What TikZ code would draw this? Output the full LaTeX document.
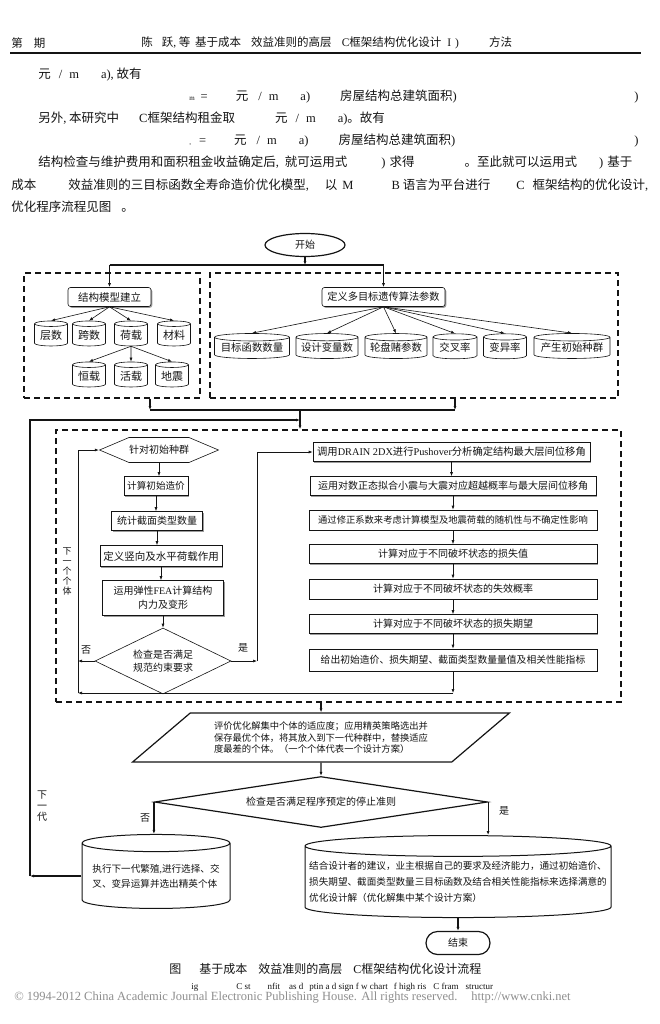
\documentclass[tikz,border=0pt]{standalone}
\usepackage{fontspec}
\setmainfont{Noto Sans CJK SC}
\newfontfamily\lat{Liberation Serif}
\usetikzlibrary{arrows.meta,shapes.geometric,shapes.symbols,shadows}
\definecolor{ink}{HTML}{141414}
\definecolor{shade}{HTML}{9C9C9C}
\definecolor{stamp}{HTML}{8E8E8E}
\newcommand\fsz[2]{\fontsize{#1}{#2}\selectfont}

\begin{document}
\begin{tikzpicture}[x=1pt,y=-1pt,>={Latex[length=4pt,width=3pt]},
  ink,text=ink,line width=0.6pt,
  body/.style={anchor=west,inner sep=0pt,font=\fsz{12.5}{14}},
  grp/.style={draw,line width=1.4pt,dash pattern=on 6pt off 4pt,inner sep=0pt},
  bold/.style={line width=1.2pt},
  pill/.style={draw,line width=1.2pt,inner sep=0pt,font=\fsz{10}{12}},
  head/.style={draw,rounded corners=2.5pt,fill=white,inner sep=0pt,font=\fsz{10.2}{12},
    drop shadow={shadow xshift=1.3pt,shadow yshift=-1.3pt,fill=shade,opacity=1}},
  can/.style={cylinder,shape border rotate=90,draw,fill=white,inner sep=0pt,font=\fsz{11}{12}},
  proc/.style={draw,fill=white,inner sep=0pt,font=\fsz{10}{12},
    drop shadow={shadow xshift=1pt,shadow yshift=-1pt,fill=shade,opacity=1}},
  ask/.style={diamond,draw,inner sep=0pt,align=center,font=\fsz{10}{13}},
  tag/.style={inner sep=0pt,font=\fsz{10}{12}}]
\useasboundingbox (0,0) rectangle (660,1024);
\fill[white] (0,0) rectangle (660,1024);

% running head and text
\node[body,font=\fsz{11.5}{13}] (issue) at (11,43) {第\hspace{11pt}期};
\node[body,font=\fsz{11.5}{13}] (runner) at (141,43)
  {陈\hspace{9pt}跃{\lat ,} 等\hspace{5pt}基于成本\hspace{10pt}效益准则的高层\hspace{10pt}{\lat C}框架结构优化设计\hspace{6pt}{\lat I\hspace{4pt})}\hspace{30pt}方法};
\draw[line width=1.3pt] (10,53) -- (641,53);
\node[body] (row1) at (38,75) {元\hspace{8pt}{\lat /\hspace{7pt}m\hspace{22pt}a),} 故有};
\node[body] (row2) at (189,97)
  {{\lat\fsz{7}{7}m}\hspace{6pt}{\lat =}\hspace{28pt}元\hspace{10pt}{\lat /}\hspace{7pt}{\lat m}\hspace{22pt}{\lat a)}\hspace{30pt}房屋结构总建筑面积{\lat )}};
\node[body] (row2r) at (634,97) {\lat )};
\node[body] (row3) at (38,119)
  {另外{\lat ,} 本研究中\hspace{20pt}{\lat C}框架结构租金取\hspace{40pt}元\hspace{8pt}{\lat /\hspace{7pt}m\hspace{22pt}a)}。故有};
\node[body] (row4) at (189,141)
  {{\lat\fsz{7}{7},}\hspace{8pt}{\lat =}\hspace{28pt}元\hspace{10pt}{\lat /}\hspace{7pt}{\lat m}\hspace{22pt}{\lat a)}\hspace{30pt}房屋结构总建筑面积{\lat )}};
\node[body] (row4r) at (634,141) {\lat )};
\node[body] (row5) at (38,163)
  {结构检查与维护费用和面积租金收益确定后{\lat ,}\hspace{6pt}就可运用式\hspace{34pt}{\lat )}\hspace{4pt}求得\hspace{50pt}。至此就可以运用式\hspace{22pt}{\lat )}\hspace{4pt}基于};
\node[body] (row6) at (11,185)
  {成本\hspace{32pt}效益准则的三目标函数全寿命造价优化模型{\lat ,}\hspace{16pt}以\hspace{5pt}{\lat M}\hspace{38pt}{\lat B}\hspace{3pt}语言为平台进行\hspace{26pt}{\lat C}\hspace{8pt}框架结构的优化设计{\lat ,}};
\node[body] (row7) at (11,207) {优化程序流程见图\hspace{10pt}。};

% model and algorithm set-up
\node[pill,ellipse,minimum width=80,minimum height=23] (start) at (305,245) {开始};
\coordinate (fork) at (305,265);
\node[grp,minimum width=176,minimum height=125] (lgrp) at (112,335.5) {};
\node[grp,minimum width=408,minimum height=125] (rgrp) at (414,335.5) {};
\node[head,minimum width=83,minimum height=19,font=\fsz{10.5}{12}] (mdl) at (109.5,297) {结构模型建立};
\node[head,minimum width=123,minimum height=19] (ga) at (383.5,297) {定义多目标遗传算法参数};
\draw[bold,->] (start) -- (fork);
\draw[bold] (mdl.north |- fork) -- (ga.north |- fork);
\draw[bold,->] (mdl.north |- fork) -- (mdl);
\draw[bold,->] (ga.north |- fork) -- (ga);

\node[can,minimum width=33,minimum height=25,aspect=0.25] (tier) at (51,335) {层数};
\node[can,minimum width=33,minimum height=25,aspect=0.25] (span) at (89,335) {跨数};
\node[can,minimum width=33,minimum height=25,aspect=0.25] (load) at (131,335) {荷载};
\node[can,minimum width=33,minimum height=25,aspect=0.25] (stuff) at (174,335) {材料};
\node[can,minimum width=33,minimum height=25,aspect=0.25] (dead) at (89,376) {恒载};
\node[can,minimum width=33,minimum height=25,aspect=0.25] (live) at (131,376) {活载};
\node[can,minimum width=33,minimum height=25,aspect=0.25] (quake) at (172,376) {地震};
\foreach \c in {tier,span,load,stuff} \draw[->] (mdl.south) -- (\c.north);
\foreach \c in {dead,live,quake} \draw[->] (load.south) -- (\c.north);

\node[can,minimum width=75,minimum height=25,aspect=0.12,font=\fsz{10.4}{12}] (objn) at (252,348) {目标函数数量};
\node[can,minimum width=62,minimum height=25,aspect=0.14,font=\fsz{10.4}{12}] (varn) at (327,348) {设计变量数};
\node[can,minimum width=62,minimum height=25,aspect=0.14,font=\fsz{10.4}{12}] (whl) at (396,348) {轮盘赌参数};
\node[can,minimum width=44,minimum height=25,aspect=0.2,font=\fsz{10.4}{12}] (xrate) at (455,348) {交叉率};
\node[can,minimum width=43,minimum height=25,aspect=0.2,font=\fsz{10.4}{12}] (mrate) at (505,348) {变异率};
\node[can,minimum width=76,minimum height=25,aspect=0.12,font=\fsz{10.4}{12}] (seed) at (572,348) {产生初始种群};
\foreach \c in {objn,varn,whl,xrate,mrate,seed} \draw[->] (ga.south) -- (\c.north);

% merge into the evaluation loop
\coordinate (jl) at (150,410);
\coordinate (jr) at (455,410);
\coordinate (jm) at (300,410);
\coordinate (back) at (30,420);
\draw[bold,->] (lgrp.south -| jl) -- (jl);
\draw[bold,->] (rgrp.south -| jr) -- (jr);
\draw[bold] (jl) -- (jr);
\node[grp,minimum width=565,minimum height=272] (ogrp) at (338.5,566) {};
\draw[bold,->] (jm) -- (jm |- ogrp.north);

% left column
\node[signal,signal to=east and west,signal pointer angle=46,draw,inner sep=0pt,
  minimum width=102,minimum height=25,font=\fsz{10}{12}] (pop) at (159,450) {针对初始种群};
\node[proc,minimum width=64,minimum height=19,font=\fsz{9.6}{12}] (c0) at (156,486) {计算初始造价};
\node[proc,minimum width=91,minimum height=19] (c1) at (157,521) {统计截面类型数量};
\node[proc,minimum width=122,minimum height=21,font=\fsz{10.5}{12}] (c2) at (161,556) {定义竖向及水平荷载作用};
\node[proc,minimum width=121,minimum height=35,align=center,font=\fsz{10}{14}] (c3) at (163,598)
  {运用弹性{\lat FEA}计算结构\\内力及变形};
\node[ask,aspect=2,minimum width=136,minimum height=66] (chk) at (163,661) {检查是否满足\\规范约束要求};
\foreach \a/\b in {pop/c0,c0/c1,c1/c2,c2/c3,c3/chk} \draw[->] (\a.south) -- (\a.south |- \b.north);

% right column
\node[proc,minimum width=277,minimum height=19,font=\fsz{10.3}{12}] (r1) at (451.5,452)
  {调用{\lat DRAIN 2DX}进行{\lat Pushover}分析确定结构最大层间位移角};
\node[proc,minimum width=286,minimum height=19] (r2) at (453,486) {运用对数正态拟合小震与大震对应超越概率与最大层间位移角};
\node[proc,minimum width=288,minimum height=20,font=\fsz{9.3}{12}] (r3) at (453,520) {通过修正系数来考虑计算模型及地震荷载的随机性与不确定性影响};
\node[proc,minimum width=288,minimum height=19] (r4) at (453,554) {计算对应于不同破坏状态的损失值};
\node[proc,minimum width=288,minimum height=20] (r5) at (453,589) {计算对应于不同破坏状态的失效概率};
\node[proc,minimum width=288,minimum height=19] (r6) at (453,624) {计算对应于不同破坏状态的损失期望};
\node[proc,minimum width=288,minimum height=22,font=\fsz{9.8}{12}] (r7) at (453,660) {给出初始造价、损失期望、截面类型数量量值及相关性能指标};
\foreach \a/\b in {r1/r2,r2/r3,r3/r4,r4/r5,r5/r6,r6/r7} \draw[->] (\a.south) -- (\a.south |- \b.north);

% branches of the constraint check
\coordinate (lx) at (78,693);
\coordinate (rx) at (257,661);
\draw[->] (chk.west) -- (chk.west -| lx);
\draw[->] (chk.east) -- (rx);
\draw[->] (rx) |- (r1.west);
\draw[->] (r7.south) -- (r7.south |- lx);
\draw[->] (r7.south |- lx) -- (lx);
\draw[->] (lx) |- (pop.west);
\node[tag] (nol) at (86,650) {否};
\node[tag] (yesl) at (243,648) {是};
\node[tag,align=center,font=\fsz{9}{10}] (nextind) at (67,571) {下\\一\\个\\个\\体};

% selection and stop test
\node[trapezium,trapezium left angle=34,trapezium right angle=146,trapezium stretches=true,
  draw,line width=1.2pt,inner sep=0pt,minimum width=378,minimum height=49,align=left,
  font=\fsz{9.3}{11.5}] (eval) at (321,737.5)
  {评价优化解集中个体的适应度；应用精英策略选出并\\保存最优个体，将其放入到下一代种群中，替换适应\\度最差的个体。（一个个体代表一个设计方案）};
\draw[bold,->] (ogrp.south -| eval.north) -- (eval.north);
\node[ask,aspect=6.5,line width=1.2pt,minimum width=333,minimum height=51] (stop) at (321,802)
  {检查是否满足程序预定的停止准则};
\draw[bold,->] (eval.south) -- (stop.north);
\node[can,line width=1pt,minimum width=148,minimum height=74,aspect=0.135,align=left,
  font=\fsz{9.6}{15}] (breed) at (156,876)
  {执行下一代繁殖{\lat ,}进行选择、交\\叉、变异运算并选出精英个体};
\node[can,line width=1pt,minimum width=306,minimum height=82,aspect=0.07,align=left,
  font=\fsz{9.6}{16}] (result) at (458,882)
  {结合设计者的建议，业主根据自己的要求及经济能力，通过初始造价、\\损失期望、截面类型数量三目标函数及结合相关性能指标来选择满意的\\优化设计解（优化解集中某个设计方案）};
\node[pill,rounded corners=11.5pt,minimum width=64,minimum height=23] (finish) at (458,943) {结束};
\draw[bold,->] (stop.west) -- (stop.west |- breed.north);
\draw[bold,->] (stop.east) -- (stop.east |- result.north);
\draw[bold,->] (result.south) -- (finish.north);
\draw[bold,->] (breed.west) -- (breed.west -| back);
\draw[bold,->] (breed.west -| back) -- (back) -- (jm |- back);
\node[tag] (nob) at (145,818) {否};
\node[tag] (yesb) at (504,811) {是};
\node[tag,align=center,font=\fsz{10}{11}] (gen) at (42,806) {下\\一\\代};

% caption and footer
\node[body,font=\fsz{12}{14}] (cap) at (169,969)
  {图\hspace{18pt}基于成本\hspace{11pt}效益准则的高层\hspace{11pt}{\lat C}框架结构优化设计流程};
\node[body,font=\lat\fsz{9}{10}] (eng) at (191,987)
  {ig\hspace{38pt}C st\hspace{17pt}nfit\hspace{9pt}as d\hspace{6pt}ptin a d sign f w chart\hspace{6pt}f high ris\hspace{7pt}C fram\hspace{7pt}structur};
\node[body,text=stamp,font=\lat\fsz{12.5}{14}] (cpr) at (14,997)
  {© 1994-2012 China Academic Journal Electronic Publishing House. All rights reserved.\hspace{14pt}http://www.cnki.net};
\end{tikzpicture}
\end{document}
